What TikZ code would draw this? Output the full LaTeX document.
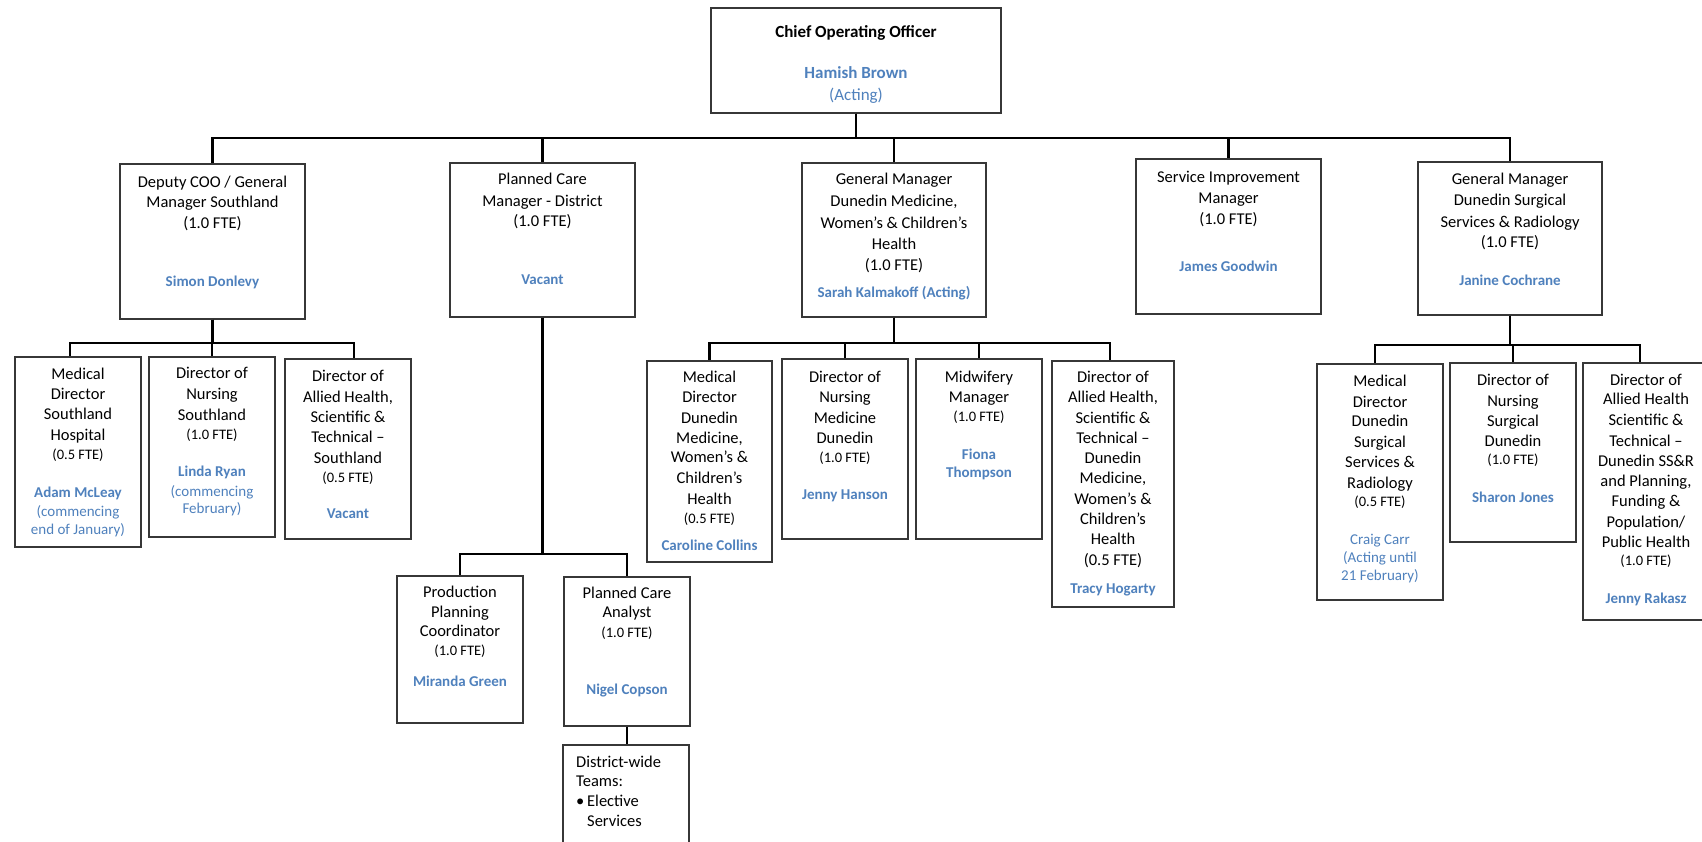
\documentclass[tikz,border=0pt]{standalone}
\usepackage{fontspec}
\setmainfont{Carlito}
\usetikzlibrary{calc}
\definecolor{nameblue}{RGB}{79,129,189}
\definecolor{boxline}{RGB}{55,55,55}
\newcounter{tl}
\newcommand\putline[4]{\stepcounter{tl}\node[#1] (t\arabic{tl}) at (#2,#3) {#4};}
\newcommand\boxat[5]{\node[orgbox, minimum width={#4-#2}, minimum height={#5-#3}] (#1) at ({(#2+#4)/2},{(#3+#5)/2}) {};}
\tikzset{
  orgbox/.style={draw=boxline, line width=1.3pt, inner sep=0pt, fill=white},
  conn/.style={draw=black, line width=2.3pt},
  tb/.style={anchor=base, inner sep=0pt, yshift=-5pt, text=black},
  mainT/.style={tb, font=\fontsize{16.5}{20}\selectfont},
  titleT/.style={tb, font=\fontsize{17}{20}\selectfont\bfseries},
  fteT/.style={tb, font=\fontsize{14.5}{18}\selectfont},
  nameT/.style={tb, text=nameblue, font=\fontsize{15}{18}\selectfont\bfseries},
  noteT/.style={tb, text=nameblue, font=\fontsize{15}{18}\selectfont},
  bigname/.style={tb, text=nameblue, font=\fontsize{17}{20}\selectfont\bfseries},
  bignote/.style={tb, text=nameblue, font=\fontsize{17}{20}\selectfont},
  leftT/.style={mainT, anchor=base west},
}
\begin{document}
\begin{tikzpicture}[x=1pt,y=-1pt]
\useasboundingbox (0,0) rectangle (1702,842);
\fill[white] (0,0) rectangle (1702,842);
% bus levels
\coordinate (busA) at (0,138);
\coordinate (busB) at (0,343);
\coordinate (busC) at (0,345);
\coordinate (busP) at (0,554);
% boxes
\boxat{coo}{711}{8}{1001}{113}
\boxat{dep}{120}{164}{305}{319}
\boxat{pl}{450}{163}{635}{317}
\boxat{gmdm}{802}{163}{986}{317}
\boxat{sim}{1136}{159}{1321}{314}
\boxat{gmds}{1418}{162}{1602}{315}
\boxat{mds}{15}{357}{141}{547}
\boxat{dns}{149}{357}{275}{537}
\boxat{dahs}{285}{359}{411}{539}
\boxat{mddm}{647}{361}{772}{562}
\boxat{dndm}{782}{359}{908}{539}
\boxat{mw}{916}{359}{1042}{539}
\boxat{dahdm}{1052}{361}{1174}{607}
\boxat{mdds}{1317}{364}{1443}{600}
\boxat{dnds}{1450}{363}{1576}{542}
\boxat{dahds}{1583}{363}{1709}{620}
\boxat{ppc}{397}{576}{523}{723}
\boxat{pca}{564}{577}{690}{726}
\boxat{dw}{563}{745}{689}{870}
% connectors level 1
\foreach \c in {dep,pl,gmdm,sim,gmds}{
  \draw[conn] (coo.south) -- (coo.south |- busA) -| (\c.north);
}
% Southland
\draw[conn] (dep.south) -- (dep.south |- busB) -| ([xshift=-8pt]mds.north);
\draw[conn] (dep.south) -- (dep.south |- busB) -| (dns.north);
\draw[conn] (dep.south) -- (dep.south |- busB) -| ([xshift=6pt]dahs.north);
% Dunedin medicine
\draw[conn] (gmdm.south) -- (gmdm.south |- busB) -| (mddm.north);
\draw[conn] (gmdm.south) -- (gmdm.south |- busB) -| (dndm.north);
\draw[conn] (gmdm.south) -- (gmdm.south |- busB) -| (mw.north);
\draw[conn] (gmdm.south) -- (gmdm.south |- busB) -| ([xshift=-3pt]dahdm.north);
% Dunedin surgical
\draw[conn] (gmds.south) -- (gmds.south |- busC) -| ([xshift=-5pt]mdds.north);
\draw[conn] (gmds.south) -- (gmds.south |- busC) -| (dnds.north);
\draw[conn] (gmds.south) -- (gmds.south |- busC) -| ([xshift=-6pt]dahds.north);
% Planned care
\draw[conn] (pl.south) -- (pl.south |- busP) -| (ppc.north);
\draw[conn] (pl.south) -- (pl.south |- busP) -| (pca.north);
\draw[conn] (pca.south) -- (pca.south |- dw.north);
% ---- texts
% COO
\putline{titleT}{856}{33}{Chief Operating Officer}
\putline{bigname}{856}{74}{Hamish Brown}
\putline{bignote}{856}{96}{(Acting)}
% Deputy
\putline{mainT}{212.5}{183}{Deputy COO / General}
\putline{mainT}{212.5}{203}{Manager Southland}
\putline{mainT}{212.5}{224}{(1.0 FTE)}
\putline{nameT}{212.5}{282}{Simon Donlevy}
% Planned care manager
\putline{mainT}{542.5}{180}{Planned Care}
\putline{mainT}{542.5}{202}{Manager - District}
\putline{mainT}{542.5}{222}{(1.0 FTE)}
\putline{nameT}{542.5}{279}{Vacant}
% GM DM
\putline{mainT}{894}{180}{General Manager}
\putline{mainT}{894}{202}{Dunedin Medicine,}
\putline{mainT}{894}{224}{Women’s \& Children’s}
\putline{mainT}{894}{245}{Health}
\putline{mainT}{894}{266}{(1.0 FTE)}
\putline{nameT}{894}{293}{Sarah Kalmakoff (Acting)}
% SIM
\putline{mainT}{1228.5}{178}{Service Improvement}
\putline{mainT}{1228.5}{199}{Manager}
\putline{mainT}{1228.5}{220}{(1.0 FTE)}
\putline{nameT}{1228.5}{267}{James Goodwin}
% GM DS
\putline{mainT}{1510}{180}{General Manager}
\putline{mainT}{1510}{201}{Dunedin Surgical}
\putline{mainT}{1510}{223}{Services \& Radiology}
\putline{mainT}{1510}{243}{(1.0 FTE)}
\putline{nameT}{1510}{281}{Janine Cochrane}
% MDS
\putline{mainT}{78}{374}{Medical}
\putline{mainT}{78}{394}{Director}
\putline{mainT}{78}{414}{Southland}
\putline{mainT}{78}{435}{Hospital}
\putline{fteT}{78}{454}{(0.5 FTE)}
\putline{nameT}{78}{492}{Adam McLeay}
\putline{noteT}{78}{511}{(commencing}
\putline{noteT}{78}{529}{end of January)}
% DNS
\putline{mainT}{212}{373}{Director of}
\putline{mainT}{212}{394}{Nursing}
\putline{mainT}{212}{415}{Southland}
\putline{fteT}{212}{434}{(1.0 FTE)}
\putline{nameT}{212}{471}{Linda Ryan}
\putline{noteT}{212}{491}{(commencing}
\putline{noteT}{212}{508}{February)}
% DAHS
\putline{mainT}{348}{376}{Director of}
\putline{mainT}{348}{397}{Allied Health,}
\putline{mainT}{348}{417}{Scientific \&}
\putline{mainT}{348}{437}{Technical –}
\putline{mainT}{348}{458}{Southland}
\putline{fteT}{348}{477}{(0.5 FTE)}
\putline{nameT}{348}{513}{Vacant}
% MDDM
\putline{mainT}{709.5}{377}{Medical}
\putline{mainT}{709.5}{397}{Director}
\putline{mainT}{709.5}{418}{Dunedin}
\putline{mainT}{709.5}{438}{Medicine,}
\putline{mainT}{709.5}{457}{Women’s \&}
\putline{mainT}{709.5}{478}{Children’s}
\putline{mainT}{709.5}{499}{Health}
\putline{fteT}{709.5}{518}{(0.5 FTE)}
\putline{nameT}{709.5}{545}{Caroline Collins}
% DNDM
\putline{mainT}{845}{377}{Director of}
\putline{mainT}{845}{397}{Nursing}
\putline{mainT}{845}{418}{Medicine}
\putline{mainT}{845}{438}{Dunedin}
\putline{fteT}{845}{457}{(1.0 FTE)}
\putline{nameT}{845}{494}{Jenny Hanson}
% MW
\putline{mainT}{979}{377}{Midwifery}
\putline{mainT}{979}{397}{Manager}
\putline{fteT}{979}{416}{(1.0 FTE)}
\putline{nameT}{979}{454}{Fiona}
\putline{nameT}{979}{472}{Thompson}
% DAHDM
\putline{mainT}{1113}{377}{Director of}
\putline{mainT}{1113}{397}{Allied Health,}
\putline{mainT}{1113}{418}{Scientific \&}
\putline{mainT}{1113}{438}{Technical –}
\putline{mainT}{1113}{458}{Dunedin}
\putline{mainT}{1113}{478}{Medicine,}
\putline{mainT}{1113}{499}{Women’s \&}
\putline{mainT}{1113}{519}{Children’s}
\putline{mainT}{1113}{539}{Health}
\putline{mainT}{1113}{560}{(0.5 FTE)}
\putline{nameT}{1113}{588}{Tracy Hogarty}
% MDDS
\putline{mainT}{1380}{381}{Medical}
\putline{mainT}{1380}{402}{Director}
\putline{mainT}{1380}{421}{Dunedin}
\putline{mainT}{1380}{442}{Surgical}
\putline{mainT}{1380}{462}{Services \&}
\putline{mainT}{1380}{483}{Radiology}
\putline{fteT}{1380}{501}{(0.5 FTE)}
\putline{noteT}{1380}{539}{Craig Carr}
\putline{noteT}{1380}{557}{(Acting until}
\putline{noteT}{1380}{575}{21 February)}
% DNDS
\putline{mainT}{1513}{380}{Director of}
\putline{mainT}{1513}{401}{Nursing}
\putline{mainT}{1513}{421}{Surgical}
\putline{mainT}{1513}{441}{Dunedin}
\putline{fteT}{1513}{459}{(1.0 FTE)}
\putline{nameT}{1513}{497}{Sharon Jones}
% DAHDS
\putline{mainT}{1646}{380}{Director of}
\putline{mainT}{1646}{399}{Allied Health}
\putline{mainT}{1646}{420}{Scientific \&}
\putline{mainT}{1646}{441}{Technical –}
\putline{mainT}{1646}{461}{Dunedin SS\&R}
\putline{mainT}{1646}{481}{and Planning,}
\putline{mainT}{1646}{501}{Funding \&}
\putline{mainT}{1646}{522}{Population/}
\putline{mainT}{1646}{542}{Public Health}
\putline{fteT}{1646}{560}{(1.0 FTE)}
\putline{nameT}{1646}{598}{Jenny Rakasz}
% PPC
\putline{mainT}{460}{592}{Production}
\putline{mainT}{460}{612}{Planning}
\putline{mainT}{460}{631}{Coordinator}
\putline{fteT}{460}{650}{(1.0 FTE)}
\putline{nameT}{460}{681}{Miranda Green}
% PCA
\putline{mainT}{627}{593}{Planned Care}
\putline{mainT}{627}{612}{Analyst}
\putline{fteT}{627}{632}{(1.0 FTE)}
\putline{nameT}{627}{689}{Nigel Copson}
% District-wide
\putline{leftT}{576}{762}{District-wide}
\putline{leftT}{576}{781}{Teams:}
\putline{leftT}{576}{801}{\makebox[11pt][l]{\textbullet}Elective}
\putline{leftT}{587}{821}{Services}
\end{tikzpicture}
\end{document}
